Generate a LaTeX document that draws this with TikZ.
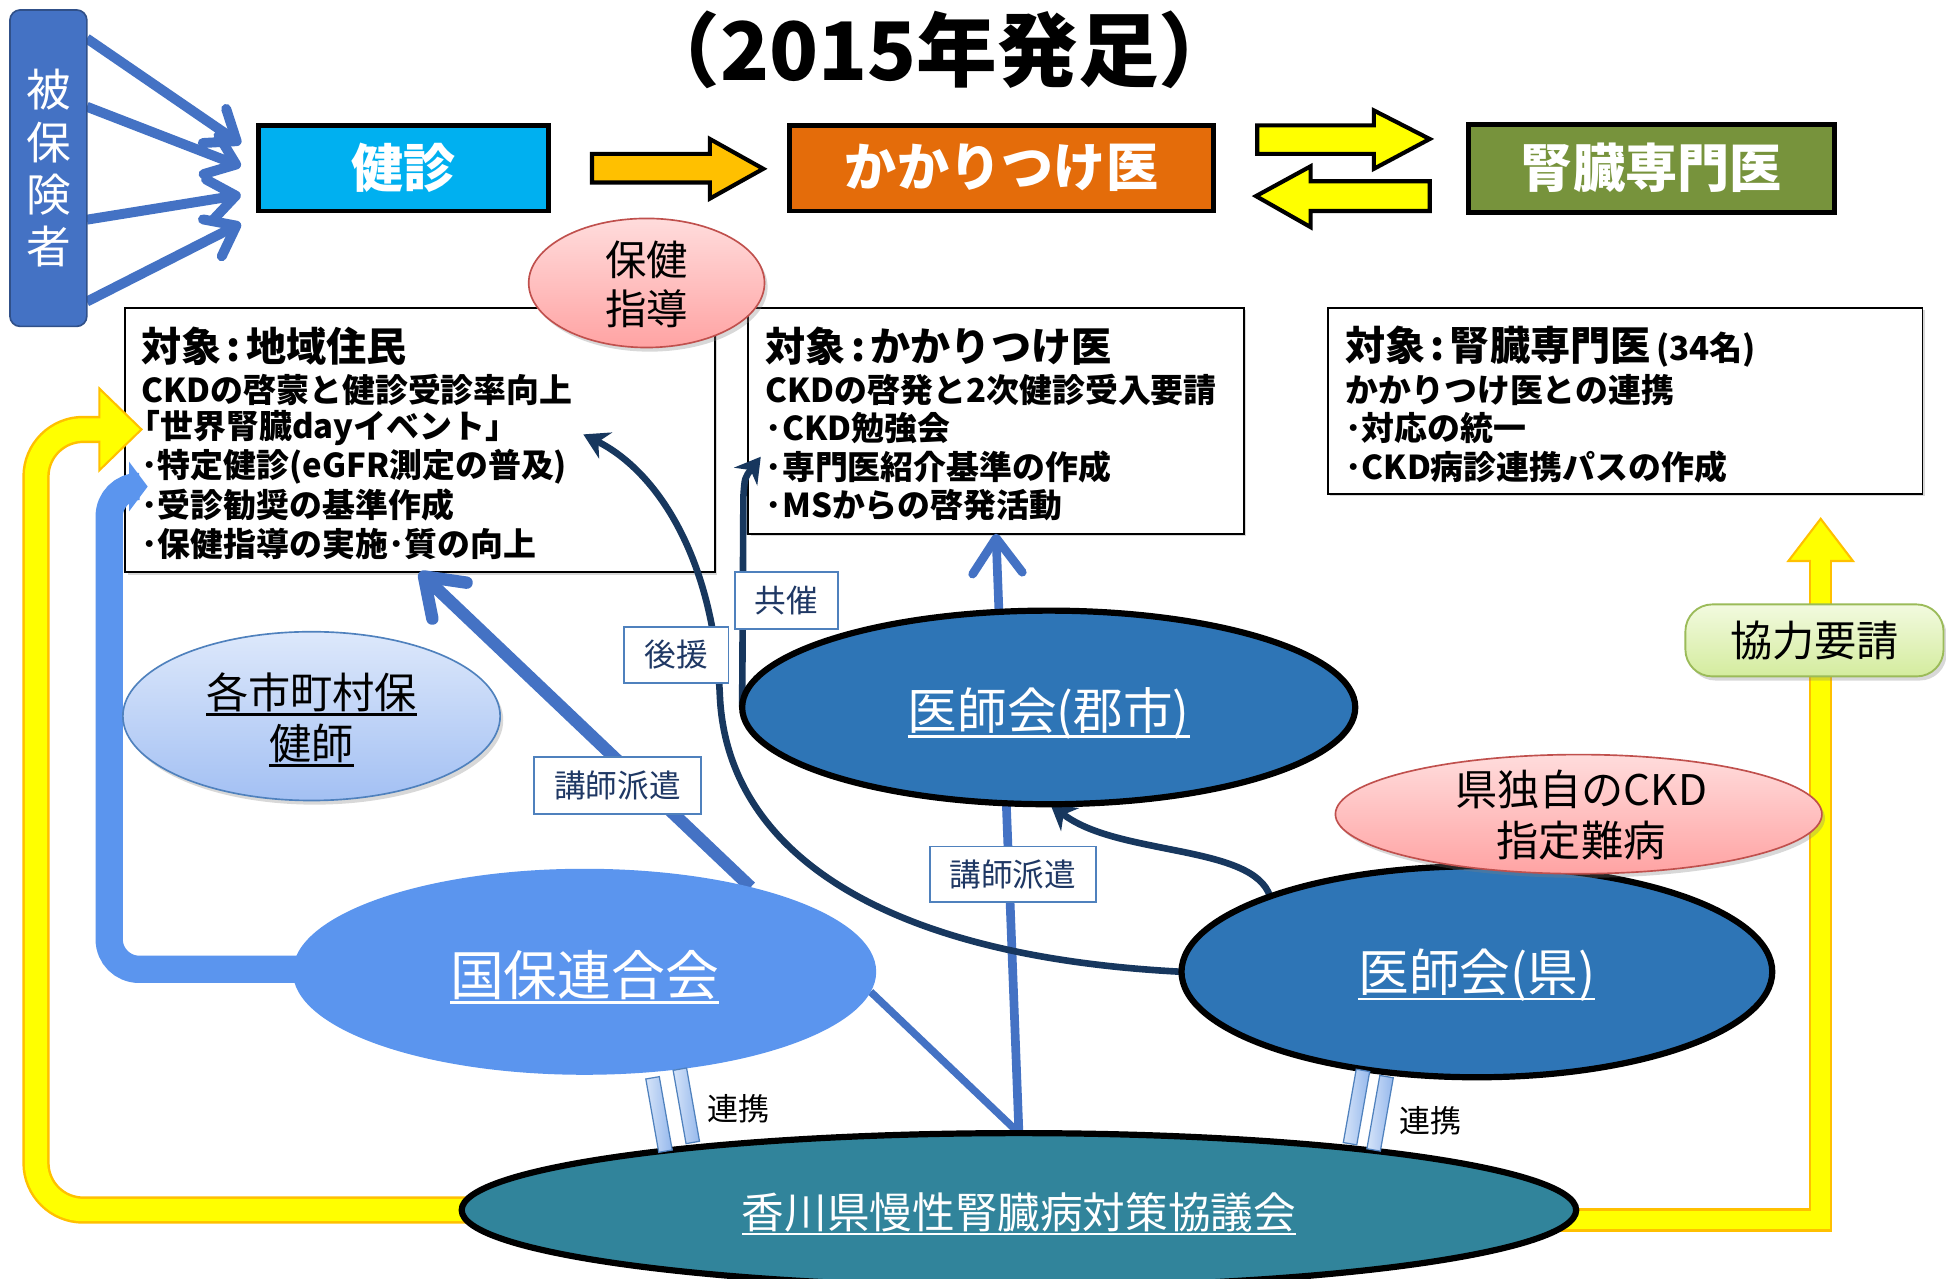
\documentclass[tikz,border=0pt]{standalone}
\usepackage{fontspec}
\setmainfont{Noto Sans CJK JP}
\usetikzlibrary{arrows.meta,shapes.geometric,shadows,calc}
\pgfdeclarelayer{boxes}
\pgfdeclarelayer{conn}
\pgfsetlayers{boxes,conn,main}
\definecolor{hiblue}{HTML}{4472C4}
\definecolor{kcyan}{HTML}{00B0F0}
\definecolor{korange}{HTML}{E46C0A}
\definecolor{kolive}{HTML}{77933C}
\definecolor{kyellow}{HTML}{FFFF00}
\definecolor{kyborder}{HTML}{FFC000}
\definecolor{kgold}{HTML}{FFC000}
\definecolor{knavy}{HTML}{17375E}
\definecolor{kmed}{HTML}{2E75B6}
\definecolor{kcorn}{HTML}{5B95EE}
\definecolor{kteal}{HTML}{31849B}
\definecolor{klab}{HTML}{4F81BD}
\definecolor{klabtext}{HTML}{1F3864}
\definecolor{ltbluetop}{HTML}{DDE8FB}
\definecolor{ltbluebot}{HTML}{A3C0F3}
\definecolor{pinktop}{HTML}{FFDCDC}
\definecolor{pinkbot}{HTML}{FFA3A3}
\definecolor{kred}{HTML}{C0504D}
\definecolor{greentop}{HTML}{F2FADF}
\definecolor{greenbot}{HTML}{D4EC9E}
\definecolor{kgreen}{HTML}{9BBB59}
\definecolor{bartop}{HTML}{D6E4F9}
\definecolor{barbot}{HTML}{95B8EC}
\newcommand{\dpx}[1]{#1*0.6pt}
\newcommand{\fsz}[2]{\fontsize{#1pt}{#2pt}\selectfont}
\newcommand{\uln}[1]{\leavevmode\setbox0=\hbox{#1}\rlap{\rule[-0.16em]{\wd0}{1.1pt}}\box0}
\newcommand{\colonsep}{\kern2.5pt:\kern2.5pt}
\begin{document}
\begin{tikzpicture}[x=0.6pt,y=-0.6pt,
  every node/.style={inner sep=0pt,outer sep=0pt},
  hdrbox/.style={rectangle,draw=black,line width=2.4pt,text=white,font=\bfseries\fsz{25.2}{30}},
  infobox/.style={rectangle,draw=black,line width=0.9pt,fill=white,drop shadow={opacity=0.3,shadow xshift=1.2pt,shadow yshift=-1.2pt}},
  btitle/.style={anchor=west,font=\bfseries\fsz{19.4}{23}},
  bline/.style={anchor=west,font=\bfseries\fsz{15.9}{19}},
  labbox/.style={rectangle,draw=klab,line width=0.9pt,fill=white,text=klabtext,font=\fsz{15.3}{18}},
  pinkell/.style={ellipse,top color=pinktop,bottom color=pinkbot,draw=kred,line width=0.8pt,drop shadow={opacity=0.3,shadow xshift=1.5pt,shadow yshift=-2pt}},
  doctorell/.style={ellipse,fill=kmed,draw=black,line width=3pt},
  bartile/.style={rectangle,minimum width=\dpx{11},minimum height=\dpx{60},left color=bartop,right color=barbot,draw=klab,line width=0.6pt},
  blockarrow/.style={draw=black,line width=2pt,line join=miter},
  hibarb/.style={draw=hiblue,line width=4.8pt,-{Straight Barb[length=13pt,width=20pt,round]}},
  bluebarb/.style={draw=hiblue,-{Straight Barb[length=17pt,width=24pt,round]}},
  navyarrow/.style={draw=knavy,line width=3.2pt,-{Stealth[length=12pt,width=14pt]}},
  ellnote/.style={align=center,font=\fsz{20.4}{24.6}},
  wtext/.style={text=white},
]
\useasboundingbox (0,0) rectangle (1568,1030);

% ---------- boxes layer ----------
\begin{pgfonlayer}{boxes}
\fill[white] (0,0) rectangle (1568,1030);
\node[infobox,minimum width=\dpx{475},minimum height=\dpx{213}] (box1) at (338.5,354.5) {};
\node[infobox,minimum width=\dpx{399},minimum height=\dpx{182}] (box2) at (802.5,339) {};
\node[infobox,minimum width=\dpx{479},minimum height=\dpx{150}] (box3) at (1309.5,323) {};

\node[btitle] (b1t) at (114,279) {対象\colonsep 地域住民};
\node[bline] (b1a) at (114,314) {CKDの啓蒙と健診受診率向上};
\node[bline] (b1b) at (103,345) {「世界腎臓dayイベント」};
\node[bline] (b1c) at (114,376) {･特定健診(eGFR測定の普及)};
\node[bline] (b1d) at (114,407) {･受診勧奨の基準作成};
\node[bline] (b1e) at (114,438) {･保健指導の実施･質の向上};

\node[btitle] (b2t) at (617,279) {対象\colonsep かかりつけ医};
\node[bline] (b2a) at (617,314) {CKDの啓発と2次健診受入要請};
\node[bline] (b2b) at (617,345) {･CKD勉強会};
\node[bline] (b2c) at (617,376) {･専門医紹介基準の作成};
\node[bline] (b2d) at (617,407) {･MSからの啓発活動};

\node[btitle] (b3t) at (1084,279) {対象\colonsep 腎臓専門医{\fsz{16}{18}\,(34名)}};
\node[bline] (b3a) at (1084,314) {かかりつけ医との連携};
\node[bline] (b3b) at (1084,345) {･対応の統一};
\node[bline] (b3c) at (1084,376) {･CKD病診連携パスの作成};
\end{pgfonlayer}

% ---------- main nodes ----------
\node[font=\bfseries\fsz{39}{44}] (title) at (757,40) {（2015年発足）};

\node[rectangle,rounded corners=5pt,fill=hiblue,draw=hiblue!70!black,line width=0.8pt,
      minimum width=\dpx{62},minimum height=\dpx{255},text=white,align=center,
      font=\fsz{21.6}{25.2}] (hiho) at (39,135.5) {被\\保\\険\\者};

\node[hdrbox,fill=kcyan,minimum width=\dpx{234},minimum height=\dpx{69}] (kenshin) at (325,135.5) {健診};
\node[hdrbox,fill=korange,minimum width=\dpx{342},minimum height=\dpx{69}] (kakari) at (807,135.5) {かかりつけ医};
\node[hdrbox,fill=kolive,minimum width=\dpx{295},minimum height=\dpx{71}] (jinzo) at (1330.5,135.5) {腎臓専門医};

% block arrows
\filldraw[blockarrow,fill=kgold] (477,124) -- (572,124) -- (572,112) -- (615,136) -- (572,160) -- (572,147) -- (477,147) -- cycle;
\filldraw[blockarrow,fill=kyellow] (1013,101) -- (1107,101) -- (1107,89) -- (1152,112) -- (1107,136) -- (1107,124) -- (1013,124) -- cycle;
\filldraw[blockarrow,fill=kyellow] (1152,146) -- (1056,146) -- (1056,134) -- (1012,158) -- (1056,183) -- (1056,170) -- (1152,170) -- cycle;

\node[pinkell,minimum width=\dpx{190},minimum height=\dpx{104}] (hoken) at (521,228) {};
\node[align=center,font=\fsz{20}{24}] (hokenT) at (521,229) {保健\\指導};

\node[ellipse,top color=ltbluetop,bottom color=ltbluebot,draw=klab,line width=0.8pt,
      minimum width=\dpx{304},minimum height=\dpx{136},
      drop shadow={opacity=0.3,shadow xshift=1.5pt,shadow yshift=-2pt}] (kakushi) at (251,577) {};
\node[ellnote] (kakushiT) at (251,580) {\uln{各市町村保}\\\uln{健師}};

\node[doctorell,minimum width=\dpx{494},minimum height=\dpx{156}] (gunshi) at (845,570) {};
\node[wtext,font=\fsz{24}{28}] (gunshiT) at (845,575) {\uln{医師会(郡市)}};

\node[ellipse,fill=kcorn,minimum width=\dpx{470},minimum height=\dpx{166}] (kokuho) at (471,783) {};
\node[wtext,font=\fsz{26}{30}] (kokuhoT) at (471,787) {\uln{国保連合会}};

\node[doctorell,minimum width=\dpx{476},minimum height=\dpx{170}] (kenishi) at (1190,783) {};
\node[wtext,font=\fsz{24.5}{28}] (kenishiT) at (1190,786) {\uln{医師会(県)}};

\node[pinkell,minimum width=\dpx{392},minimum height=\dpx{96}] (kendoku) at (1272,656) {};
\node[ellnote] (kendokuT) at (1274,657) {県独自のCKD\\指定難病};

\node[rectangle,rounded corners=13pt,top color=greentop,bottom color=greenbot,draw=kgreen,line width=0.9pt,
      minimum width=\dpx{208},minimum height=\dpx{58},font=\fsz{20.4}{24},
      drop shadow={opacity=0.3,shadow xshift=1.5pt,shadow yshift=-2pt}] (kyoryoku) at (1462,516) {協力要請};

\node[ellipse,fill=kteal,draw=black,line width=3pt,minimum width=\dpx{898},minimum height=\dpx{124}] (kagawa) at (821,975) {};
\node[wtext,font=\fsz{20.6}{24}] (kagawaT) at (821,978) {\uln{香川県慢性腎臓病対策協議会}};

% labels
\node[labbox,minimum width=\dpx{83},minimum height=\dpx{46}] (kyosai) at (633.5,484) {共催};
\node[labbox,minimum width=\dpx{84},minimum height=\dpx{45}] (koen) at (545,527.5) {後援};
\node[labbox,minimum width=\dpx{135},minimum height=\dpx{46}] (koshiA) at (497.5,633) {講師派遣};
\node[labbox,minimum width=\dpx{134},minimum height=\dpx{45}] (koshiB) at (816,704.5) {講師派遣};

% 連携 bars
\node[bartile,rotate=10] (barA) at (531,898) {};
\node[bartile,rotate=10] (barB) at (553,891) {};
\node[bartile,rotate=-10] (barC) at (1093,892) {};
\node[bartile,rotate=-10] (barD) at (1112,897) {};
\node[font=\fsz{15}{18}] (renA) at (595,893) {連携};
\node[font=\fsz{15}{18}] (renB) at (1153,903) {連携};

% free ends
\coordinate (ytipL) at (114,346);
\coordinate (b1tip) at (470,350);
\coordinate (b2tip) at (613,368);

% ---------- connectors ----------
\begin{pgfonlayer}{conn}
% 被保険者 -> 健診
\draw[hibarb] (hiho.east |- 0,31) -- ($(kenshin.west)+(-14,-19.5)$);
\draw[hibarb] (hiho.east |- 0,86) -- ($(kenshin.west)+(-14,-1.5)$);
\draw[hibarb] (hiho.east |- 0,177) -- ($(kenshin.west)+(-14,21.5)$);
\draw[hibarb] (hiho.east |- 0,243) -- ($(kenshin.west)+(-14,44.5)$);

% yellow left: 協議会 -> 地域住民
\draw[kyborder,line width=\dpx{22},rounded corners=\dpx{38}] ($(kagawa.west)+(12,0)$) -| (29,346) -- (84,346);
\filldraw[fill=kyellow,draw=kyborder,line width=1pt] (80,313) -- (ytipL) -- (80,379) -- cycle;
\draw[kyellow,line width=\dpx{18},rounded corners=\dpx{38}] ($(kagawa.west)+(14,0)$) -| (29,346) -- (86,346);

% yellow right: 協議会 -> 腎臓専門医
\draw[kyborder,line width=\dpx{19}] ($(kagawa.east)+(-15,8)$) -| (1467,452);
\filldraw[fill=kyellow,draw=kyborder,line width=1pt] (1441,452) -- (1467,418) -- (1493,452) -- cycle;
\draw[kyellow,line width=\dpx{15}] ($(kagawa.east)+(-13,8)$) -| (1467,449);

% 国保連合会 -> 地域住民 (bent)
\draw[kcorn,line width=\dpx{22}] ($(kokuho.west)+(12,-2)$) [rounded corners=\dpx{24}] -- (88,781) -- (88,392) [rounded corners=\dpx{16}] -- (108,392);
\fill[kcorn] (104,372) -- (119,392) -- (104,412) -- cycle;

% 国保連合会 -> 地域住民 (講師派遣)
\draw[bluebarb,line width=6pt] (kokuho.27) -- ($(box1.south west)+(237,0)$);

% 国保連合会 -- 協議会
\draw[hiblue,line width=3.6pt] (kokuho.-4) -- (kagawa.north);
% 協議会 -> かかりつけ医
\draw[bluebarb,line width=4.2pt] (kagawa.north) -- (box2.south);

% 医師会(県) -> 地域住民 (後援)
\draw[navyarrow] (kenishi.west) .. controls (700,770) and (585,680) .. (580,560) .. controls (575,450) and (530,380) .. (b1tip);
% 医師会(郡市) -> かかりつけ医 (共催)
\draw[navyarrow] (gunshi.west) -- (599,400) .. controls (600,385) .. (b2tip);
% 医師会(県) -> 医師会(郡市)
\draw[navyarrow] (kenishi.160) .. controls (1010,680) and (900,690) .. (gunshi.-89);
\end{pgfonlayer}
\end{tikzpicture}
\end{document}
